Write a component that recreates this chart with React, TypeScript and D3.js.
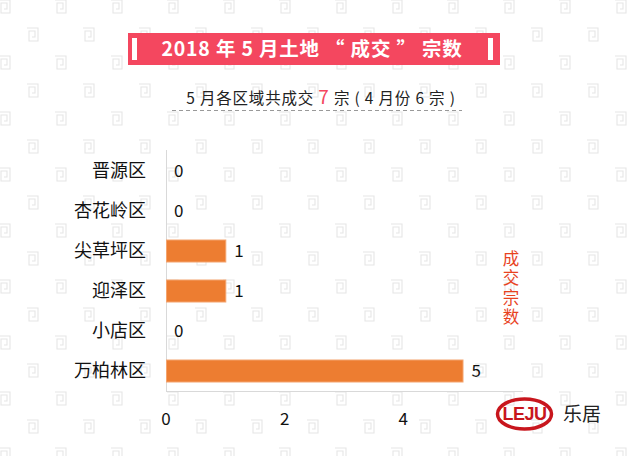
import React from "react";
import * as d3 from "d3";

const categories = ["晋源区", "杏花岭区", "尖草坪区", "迎泽区", "小店区", "万柏林区"];
const values = [0, 0, 1, 1, 0, 5];
const xTicks = [0, 2, 4];
const titleText = "2018 年 5 月土地 “ 成交 ” 宗数";
const axisTitle = "成交宗数";

const W = 640;
const H = 456;
const FONT = "'Noto Sans CJK SC', 'Microsoft YaHei', sans-serif";

function Watermark() {
  return (
    <g stroke="#e6e6e6" strokeWidth={1.1} fill="none">
      <path d="M1 1 H12 V14 H3 V4 H9 V10 H6" />
    </g>
  );
}

export default function App() {
  const x = d3.scaleLinear().domain([0, 5]).range([166, 462.5]);
  const y = d3.scaleBand<string>().domain(categories).range([151, 391]).paddingInner(0.45).paddingOuter(0.225);
  const bw = y.bandwidth();

  return (
    <svg width={W} height={H} style={{ position: "absolute", left: 0, top: 0, background: "#fff" }} fontFamily={FONT}>
      <defs>
        <pattern id="wm" width={56} height={56} patternUnits="userSpaceOnUse" x={-2} y={-1}>
          <g transform="translate(0,0)"><Watermark /></g>
          <g transform="translate(28,28)"><Watermark /></g>
        </pattern>
      </defs>
      <rect x={0} y={0} width={W} height={H} fill="#fff" />
      <rect x={0} y={0} width={W} height={H} fill="url(#wm)" />

      {/* title */}
      <rect x={128} y={33} width={372} height={32} fill="#f4475f" />
      <rect x={132} y={38} width={5} height={22} fill="#fff" />
      <rect x={488} y={38} width={5} height={22} fill="#fff" />
      <text x={312} y={56} textAnchor="middle" fill="#fff" fontSize={19.5} fontWeight="bold" letterSpacing={0.8}>{titleText}</text>

      {/* subtitle */}
      <text x={321} y={104} textAnchor="middle" fontSize={15.5} fill="#222" letterSpacing={0.8}>
        <tspan>5 月各区域共成交 </tspan>
        <tspan fill="#f4475f" fontSize={19}>7</tspan>
        <tspan> 宗 ( 4 月份 6 宗 )</tspan>
      </text>
      <line x1={172} x2={462} y1={110.5} y2={110.5} stroke="#999" strokeDasharray="4,3" />

      {/* axes */}
      <line x1={166.5} x2={166.5} y1={150} y2={391} stroke="#d9d9d9" />
      <line x1={166} x2={523} y1={391.5} y2={391.5} stroke="#d9d9d9" />

      {categories.map((c, i) => {
        const yy = y(c)!;
        const v = values[i];
        return (
          <g key={c}>
            <text x={146} y={yy + bw / 2} dy="0.35em" textAnchor="end" fontSize={18} fill="#111">{c}</text>
            {v > 0 && (
              <rect x={x(0) + 0.5} y={yy} width={x(v) - x(0)} height={bw} fill="#ed7d31" stroke="#f4a46e" strokeWidth={1} />
            )}
            <text x={x(v) + (v > 0 ? 9 : 8)} y={yy + bw / 2} dy="0.35em" fontSize={17} fill="#111">{v}</text>
          </g>
        );
      })}

      {xTicks.map((t) => (
        <text key={t} x={x(t)} y={419} dy="0.35em" textAnchor="middle" fontSize={17} fill="#111">{t}</text>
      ))}

      {/* vertical axis title */}
      <text x={511} y={250} style={{ writingMode: "vertical-rl" }} fontSize={16.5} fill="#e8431f" letterSpacing={3}>{axisTitle}</text>

      {/* logo */}
      <g>
        <ellipse cx={524.5} cy={414} rx={27} ry={15} fill="none" stroke="#c8161d" strokeWidth={3.5} />
        <text x={524.5} y={414} dy="0.36em" textAnchor="middle" fontSize={18} fontWeight="bold" fill="#c8161d" fontFamily="'Liberation Sans Narrow', 'Liberation Sans', Arial, sans-serif" letterSpacing={-0.5}>LEJU</text>
        <text x={582} y={414} dy="0.36em" textAnchor="middle" fontSize={19} fill="#222">乐居</text>
      </g>
    </svg>
  );
}
